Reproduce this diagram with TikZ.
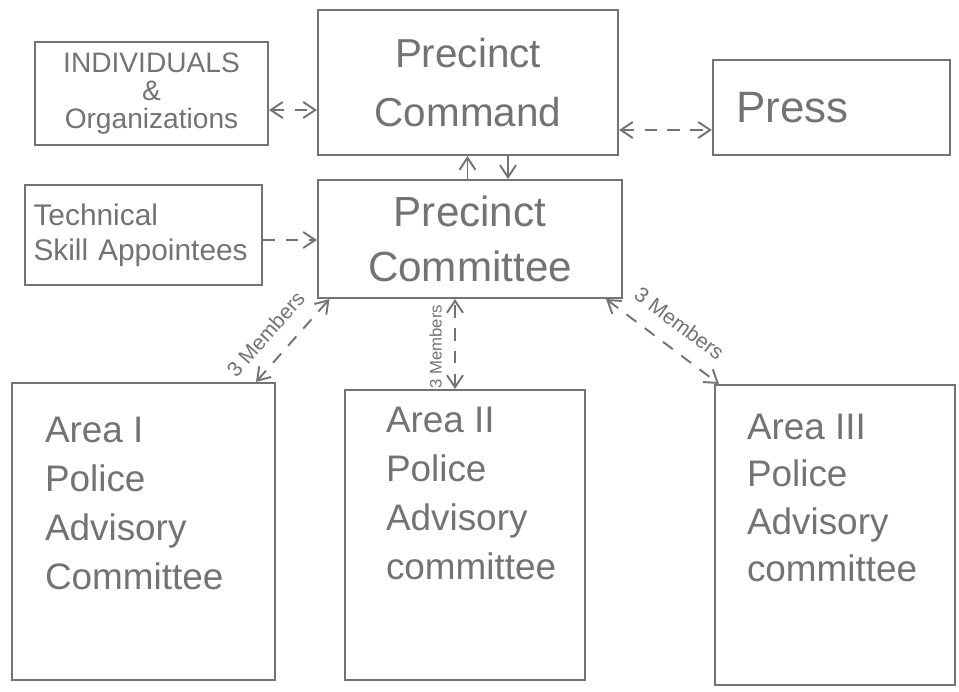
\documentclass[tikz,border=0pt]{standalone}
\usepackage{fontspec}
\setmainfont{Liberation Sans}
\usetikzlibrary{arrows.meta}
\definecolor{pencil}{gray}{0.45}

% text block set at the top left of an area box
\newcommand{\arealines}[4]{\parbox[c][#1][t]{#2}{\raggedright\leftskip=#3\relax #4}}

\begin{document}
\begin{tikzpicture}[
  >={Straight Barb[length=2.4mm,width=3.2mm]},
  box/.style={draw=pencil, line width=1.2pt, text=pencil, inner sep=0pt},
  link/.style={draw=pencil, line width=1.1pt, dash pattern=on 7pt off 6pt},
  solidlink/.style={draw=pencil, line width=1.1pt},
  lbl/.style={text=pencil, font=\fontsize{12}{13}\selectfont, inner sep=1pt}
]
  \useasboundingbox (0,0) rectangle (19.18,13.84);

  % Top row
  \node[box, minimum width=4.66cm, minimum height=2.06cm, align=center,
        font=\fontsize{16}{16}\selectfont] (ind) at (3.03,11.97)
        {INDIVIDUALS\\\&\\Organizations};
  \node[box, minimum width=6cm, minimum height=2.9cm, align=center,
        font=\fontsize{23}{34}\selectfont] (cmd) at (9.36,12.19)
        {Precinct\\Command};
  \node[box, minimum width=4.74cm, minimum height=1.9cm, text width=3.8cm, align=left,
        font=\fontsize{25}{30}\selectfont] (press) at (16.63,11.69)
        {\raisebox{-0.35cm}{Press}};

  % Second row
  \node[box, minimum width=4.74cm, minimum height=2cm, text width=4.4cm, align=left,
        font=\fontsize{17}{20}\selectfont] (tech) at (2.87,9.14)
        {Technical\\Skill Appointees};
  \node[box, minimum width=6.08cm, minimum height=2.36cm, align=center,
        font=\fontsize{24}{31}\selectfont] (cmt) at (9.40,9.06)
        {Precinct\\Committee};

  % Area committees
  \node[box, minimum width=5.26cm, minimum height=5.94cm,
        font=\fontsize{21}{28}\selectfont] (a1) at (2.87,3.21)
        {\arealines{4.58cm}{5.26cm}{0.66cm}{Area I\\Police\\Advisory\\Committee}};
  \node[box, minimum width=4.8cm, minimum height=5.8cm,
        font=\fontsize{21}{28}\selectfont] (a2) at (9.30,3.14)
        {\arealines{5.12cm}{4.8cm}{0.82cm}{Area II\\Police\\Advisory\\committee}};
  \node[box, minimum width=4.8cm, minimum height=6cm,
        font=\fontsize{21}{27}\selectfont] (a3) at (16.70,3.14)
        {\arealines{4.84cm}{4.8cm}{0.64cm}{Area III\\Police\\Advisory\\committee}};

  % Links to the command
  \draw[link,<->] ([yshift=-0.33cm]ind.east) -- ([yshift=-0.33cm]ind.east -| cmd.west);
  \draw[link,<->] ([yshift=-0.45cm]press.west -| cmd.east) -- ([yshift=-0.45cm]press.west);
  \draw[solidlink,->] ([xshift=-0.05cm]cmt.north) -- ([xshift=-0.05cm]cmt.north |- cmd.south);
  \draw[solidlink,->] ([xshift=0.8cm]cmd.south) -- ([xshift=0.8cm]cmd.south |- cmt.north);
  \draw[link,->] ([yshift=-0.1cm]tech.east) -- ([yshift=-0.1cm]tech.east -| cmt.west);

  % Members sent to the committee
  \draw[link,<->] ([xshift=-0.4cm]a1.north east) --
    node[lbl, pos=0.38, sloped, above=8pt] {3 Members} ([xshift=0.25cm]cmt.south west);
  \draw[link,<->] ([xshift=-0.2cm]a2.north) --
    node[lbl, pos=0.47, sloped, above=6pt, font=\fontsize{9.5}{10}\selectfont] {3 Members}
    ([xshift=-0.2cm]a2.north |- cmt.south);
  \draw[link,<->] ([xshift=-0.34cm]cmt.south east) --
    node[lbl, pos=0.52, sloped, above=8pt] {3 Members} ([xshift=0.1cm]a3.north west);
\end{tikzpicture}
\end{document}
